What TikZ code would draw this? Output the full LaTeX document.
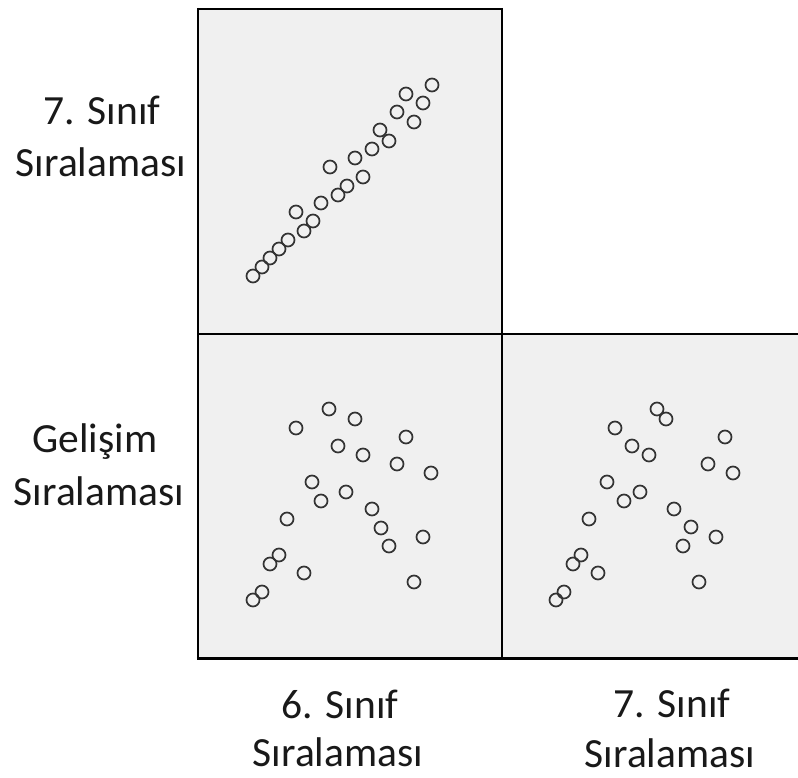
\documentclass[tikz,border=0pt]{standalone}
\usepackage{fontspec}
\setmainfont{Carlito}
\begin{document}
\begin{tikzpicture}[x=1pt,y=-1pt,
  pt/.style={circle,draw=black!80,line width=1.7pt,minimum size=13pt,inner sep=0pt},
  panel/.style={fill=black!6,draw=none},
  frame/.style={draw=black,line width=2.4pt},
  lab/.style={font=\fontsize{41.5}{50}\selectfont,anchor=base,inner sep=0pt,text=black!90}]
\useasboundingbox (0,0) rectangle (798,778);
% panels
\fill[panel] (198,9) rectangle (502,334);
\fill[panel] (198,334) rectangle (798,658);
% points: top-left
\foreach \x/\y [count=\i] in {253/276,262/267,270/258,279/249,288/240,296/212,304/231,313/221,321/203,330/167,338/195,347/186,355/158,363/177,372/149,380/130,389/141,397/112,406/94,414/122,423/103,432/85}
  \node[pt] (a\i) at (\x,\y) {};
% points: bottom-left
\foreach \x/\y [count=\i] in {329/409,355/419,296/428,406/437,338/446,363/455,397/464,431/473,312/482,346/492,321/501,372/509,287/519,381/528,423/537,389/546,279/555,270/564,304/573,414/582,262/592,253/600}
  \node[pt] (b\i) at (\x,\y) {};
% points: bottom-right
\foreach \x/\y [count=\i] in {657/409,666/419,615/428,725/437,632/446,649/455,708/464,733/473,607/482,640/492,624/501,674/509,589/519,691/527,716/537,683/546,581/555,573/564,598/573,699/582,564/592,556/600}
  \node[pt] (c\i) at (\x,\y) {};
% frame lines
\draw[frame] (198,9) -- (502,9);
\draw[frame] (198,7.8) -- (198,659.2);
\draw[frame] (502,7.8) -- (502,659.2);
\draw[frame] (198,334) -- (798,334);
\draw[frame,line width=3pt] (196.8,658) -- (798,658);
% labels
\node[lab] (ly1) at (102,125) {7. Sınıf};
\node[lab] (ly2) at (101,177) {Sıralaması};
\node[lab] (lg1) at (95,452) {Gelişim};
\node[lab] (lg2) at (99,505) {Sıralaması};
\node[lab] (lx1) at (340,718) {6. Sınıf};
\node[lab] (lx2) at (338,766) {Sıralaması};
\node[lab] (lz1) at (672,717) {7. Sınıf};
\node[lab] (lz2) at (670,767) {Sıralaması};
\end{tikzpicture}
\end{document}
